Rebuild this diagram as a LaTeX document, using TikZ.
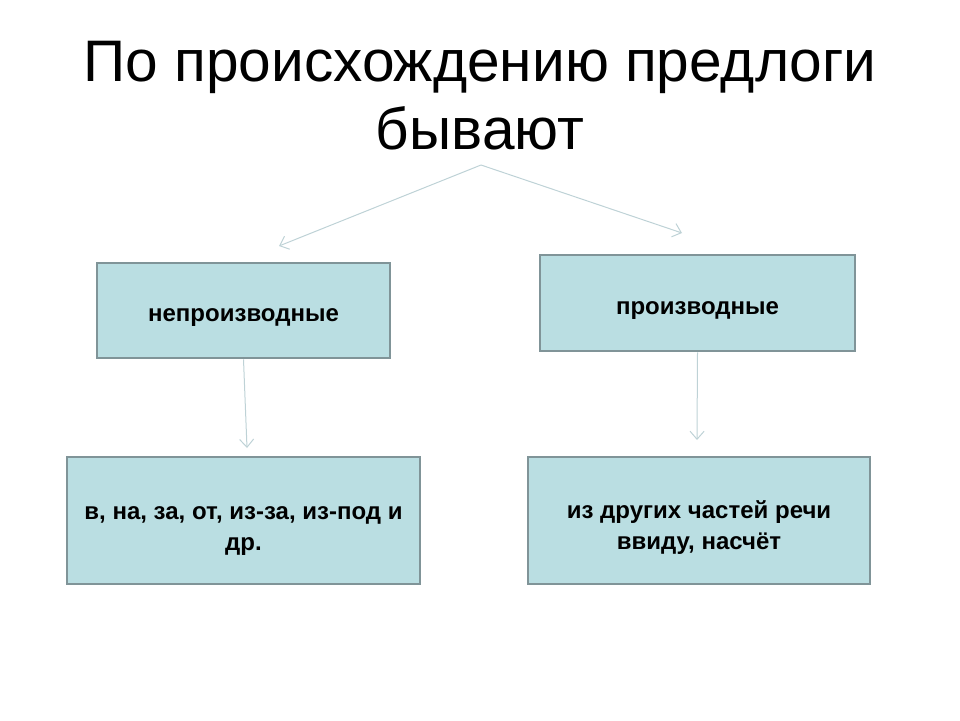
\documentclass[tikz,border=0pt]{standalone}
\usepackage{fontspec}
\setmainfont{Liberation Sans}
\usetikzlibrary{arrows.meta}
\definecolor{boxfill}{RGB}{186,222,226}
\definecolor{boxline}{RGB}{128,148,152}
\definecolor{arrowc}{RGB}{190,210,214}
\newcommand\dnshift[2]{\raisebox{-#1}[\height][\depth]{\begin{tabular}{@{}c@{}}#2\end{tabular}}}
\tikzset{
  box/.style={draw=boxline, line width=2.8pt, fill=boxfill, inner sep=0pt,
     font=\fontsize{24}{31}\selectfont\bfseries},
  conn/.style={draw=arrowc, line width=1pt, -{Straight Barb[length=8pt,width=14pt]}}
}
\begin{document}
\begin{tikzpicture}[x=1pt,y=-1pt]
\useasboundingbox (0,0) rectangle (960,720);
\node[font=\fontsize{58.6}{68}\selectfont, align=center, anchor=center] (title) at (480,96)
  {По происхождению предлоги\\бывают};
\coordinate (top) at (481,165);
\node[box, minimum width=293pt, minimum height=95pt] (np) at (243.5,310.5) {\dnshift{5pt}{непроизводные}};
\node[box, minimum width=315pt, minimum height=96pt] (p) at (697.5,303) {\dnshift{5pt}{производные}};
\node[box, minimum width=353pt, minimum height=127pt] (ex1) at (243.5,520.5) {\dnshift{8pt}{в, на, за, от, из-за, из-под и\\др.}};
\node[box, minimum width=342pt, minimum height=127pt] (ex2) at (699,520.5) {\dnshift{7pt}{из других частей речи\\ввиду, насчёт}};
\coordinate (a1) at (279,246);
\coordinate (a2) at (682,233);
\coordinate (a3) at (247,448);
\coordinate (a4) at (697,440);
\draw[conn] (top) -- (a1);
\draw[conn] (top) -- (a2);
\draw[conn] (np.south) -- (a3);
\draw[conn] (p.south) -- (a4);
\end{tikzpicture}
\end{document}
